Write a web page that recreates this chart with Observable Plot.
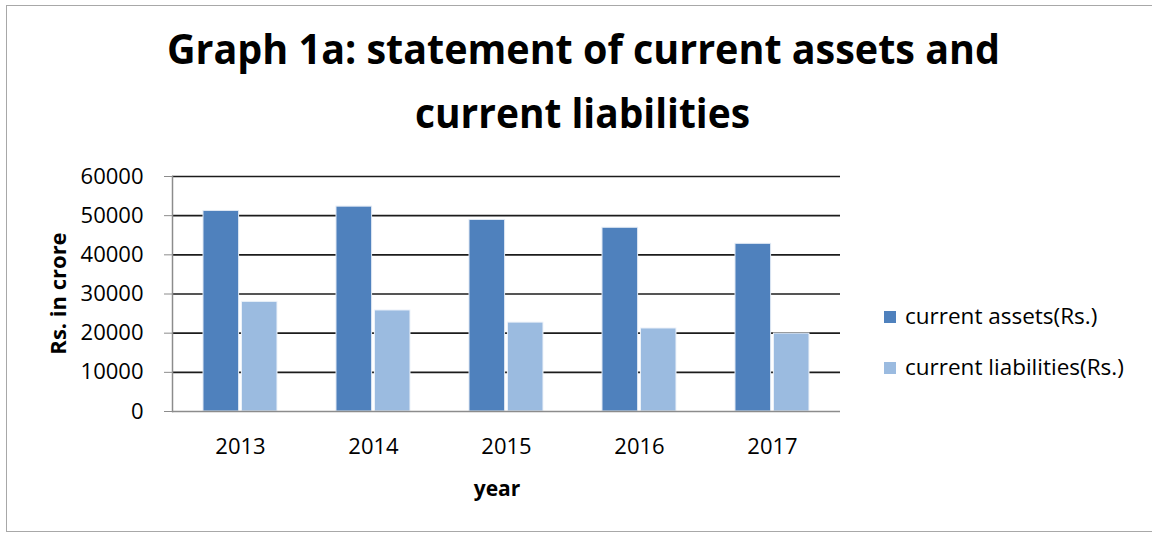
<!DOCTYPE html>
<html>
<head>
<meta charset="utf-8">
<script src="https://cdn.jsdelivr.net/npm/d3@7"></script>
<script src="https://cdn.jsdelivr.net/npm/@observablehq/plot@0.6"></script>
<style>
  html, body { margin: 0; padding: 0; background: #fff; }
  #wrap { position: relative; width: 1152px; height: 535px; overflow: hidden; font-family: 'Open Sans', sans-serif; }
  #border { position: absolute; left: 6px; top: 5px; width: 1160px; height: 527px; border: 1.5px solid #a8a8a8; box-sizing: border-box; }
  #chart { position: absolute; left: 0; top: 0; }
  #overlay { position: absolute; left: 0; top: 0; pointer-events: none; }
</style>
</head>
<body>
<div id="wrap">
  <div id="border"></div>
  <div id="chart"></div>
  <svg id="overlay" width="1152" height="535"></svg>
</div>
<script>
// ---- data ----
const years = ["2013", "2014", "2015", "2016", "2017"];
const currentAssets = [51200, 52300, 48900, 46900, 42800];
const currentLiabilities = [28000, 25800, 22700, 21200, 19900];
const seriesNames = ["current assets(Rs.)", "current liabilities(Rs.)"];
const seriesColors = ["#4F81BD", "#9BBBE0"];
const yTicks = [0, 10000, 20000, 30000, 40000, 50000, 60000];
const titleLines = ["Graph 1a: statement of current assets and", "current liabilities"];
const yLabel = "Rs. in crore";
const xLabel = "year";

const table = years.flatMap((yr, i) => [
  {year: yr, series: seriesNames[0], value: currentAssets[i]},
  {year: yr, series: seriesNames[1], value: currentLiabilities[i]}
]);

// ---- layout ----
const W = 1152, H = 535;
const mL = 172, mR = 312, mT = 176, mB = 124;
const padIn = 0.44, padOut = 0.22;
const step = (W - mL - mR) / (years.length - padIn + 2 * padOut);
const bw = step * (1 - padIn);
const half = bw / 2 + 1;

const chart = Plot.plot({
  width: W, height: H,
  marginLeft: mL, marginRight: mR, marginTop: mT, marginBottom: mB,
  style: {fontFamily: "'Open Sans', sans-serif", fontSize: "22px", color: "#000", background: "transparent", overflow: "visible"},
  x: {domain: years, paddingInner: padIn, paddingOuter: padOut, label: null},
  y: {domain: [0, 60000], label: null},
  color: {domain: seriesNames, range: seriesColors},
  marks: [
    Plot.ruleY(yTicks.slice(1), {stroke: "#1c1c1c", strokeWidth: 1.6}),
    Plot.barY(table.filter(d => d.series === seriesNames[0]), {x: "year", y: "value", fill: "series", insetRight: half, stroke: "#dfe8f3", strokeWidth: 1}),
    Plot.barY(table.filter(d => d.series === seriesNames[1]), {x: "year", y: "value", fill: "series", insetLeft: half, stroke: "#eef3fa", strokeWidth: 1}),
    Plot.ruleY([0], {stroke: "#8c8c8c", strokeWidth: 1.5}),
    Plot.frame({anchor: "left", stroke: "#8c8c8c", strokeWidth: 1.5}),
    Plot.axisY({ticks: yTicks, tickFormat: d => String(d), tickSize: 8, tickPadding: 21, stroke: "#8c8c8c", label: null}),
    Plot.axisX({tickSize: 0, tickPadding: 27, label: null})
  ]
});
document.getElementById("chart").appendChild(chart);

// ---- title, axis labels, legend ----
const ov = d3.select("#overlay");
const titleG = ov.append("g").attr("font-family", "'Open Sans', sans-serif").attr("font-weight", "bold").attr("font-size", 42).attr("text-anchor", "middle").attr("fill", "#000");
titleG.append("text").attr("x", 583.5).attr("y", 64).attr("textLength", 833).attr("lengthAdjust", "spacingAndGlyphs").text(titleLines[0]);
titleG.append("text").attr("x", 582.5).attr("y", 128).attr("textLength", 335).attr("lengthAdjust", "spacingAndGlyphs").text(titleLines[1]);

ov.append("text").attr("transform", "translate(66,293.5) rotate(-90)")
  .attr("text-anchor", "middle").attr("font-family", "'Open Sans', sans-serif").attr("font-weight", "bold").attr("font-size", 22).text(yLabel);
ov.append("text").attr("x", 497).attr("y", 496)
  .attr("text-anchor", "middle").attr("font-family", "'Open Sans', sans-serif").attr("font-weight", "bold").attr("font-size", 21).text(xLabel);

const lg = ov.append("g").attr("font-family", "'Open Sans', sans-serif").attr("font-size", 22.5);
seriesNames.forEach((name, i) => {
  const y0 = 311 + i * 51;
  lg.append("rect").attr("x", 884).attr("y", y0).attr("width", 12).attr("height", 12).attr("fill", seriesColors[i]);
  lg.append("text").attr("x", 905).attr("y", y0 + 12.5).text(name);
});
</script>
</body>
</html>
